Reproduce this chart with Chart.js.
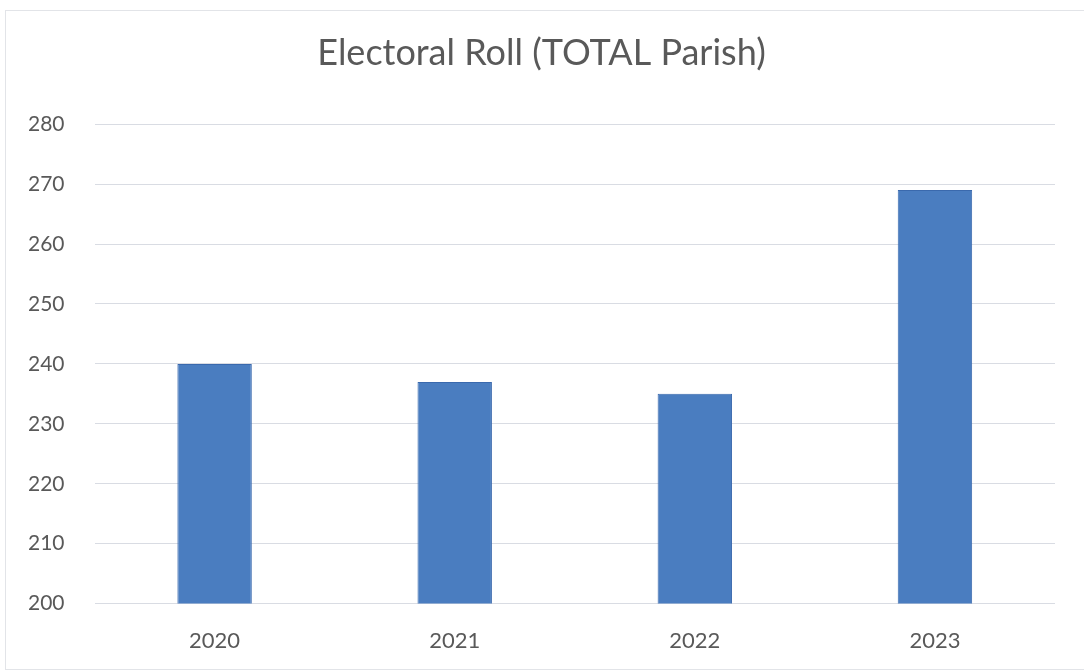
<!DOCTYPE html>
<html>
<head>
<meta charset="utf-8">
<script src="https://cdn.jsdelivr.net/npm/chart.js@4"></script>
<style>
  html, body { margin: 0; padding: 0; background: #fff; }
  #frame {
    position: absolute; left: 5px; top: 10px; width: 1079px; height: 660px;
    border-top: 1px solid #e2e4e8; border-left: 1px solid #e2e4e8; border-bottom: 1px solid #e2e4e8;
    box-sizing: border-box;
  }
  canvas { position: absolute; left: 0; top: 0; }
</style>
</head>
<body>
<div id="frame"></div>
<canvas id="rollChart" width="1084" height="672"></canvas>
<script>
const years = ['2020', '2021', '2022', '2023'];
const rollTotals = [240, 237, 235, 269];
const yTicks = [200, 210, 220, 230, 240, 250, 260, 270, 280];

const textGrey = '#595959';

let rollChart = new Chart(
    document.getElementById('rollChart'),
    config = {
        type: 'bar',
        data: {
            labels: years,
            datasets: [{
                label: 'Electoral Roll',
                data: rollTotals,
                backgroundColor: '#4a7dc0',
                borderColor: '#3a69ad',
                borderWidth: 1,
                barPercentage: 0.31,
                categoryPercentage: 1,
            }]
        },
        options: {
            responsive: false,
            animation: false,
            layout: {
                padding: { left: 28, right: 29, top: 20, bottom: -6 }
            },
            scales: {
                x: {
                    grid: { display: false, drawTicks: false },
                    border: { display: false },
                    ticks: {
                        color: textGrey,
                        padding: 24,
                        font: { family: 'Lato', size: 22 },
                    }
                },
                y: {
                    min: 200,
                    max: 280,
                    afterBuildTicks: (axis) => {
                        axis.ticks = yTicks.map(v => ({ value: v }));
                    },
                    grid: { color: '#d9dce3', lineWidth: 1, drawTicks: false },
                    border: { display: false },
                    ticks: {
                        color: textGrey,
                        padding: 15,
                        crossAlign: 'far',
                        font: { family: 'Lato', size: 21 },
                    }
                }
            },
            plugins: {
                legend: { display: false },
                tooltip: { enabled: false },
                title: {
                    display: true,
                    text: 'Electoral Roll (TOTAL Parish)',
                    color: textGrey,
                    font: { family: 'Lato', size: 36, weight: 'normal' },
                    padding: { top: 12, bottom: 49 },
                }
            }
        }
    });
</script>
</body>
</html>
